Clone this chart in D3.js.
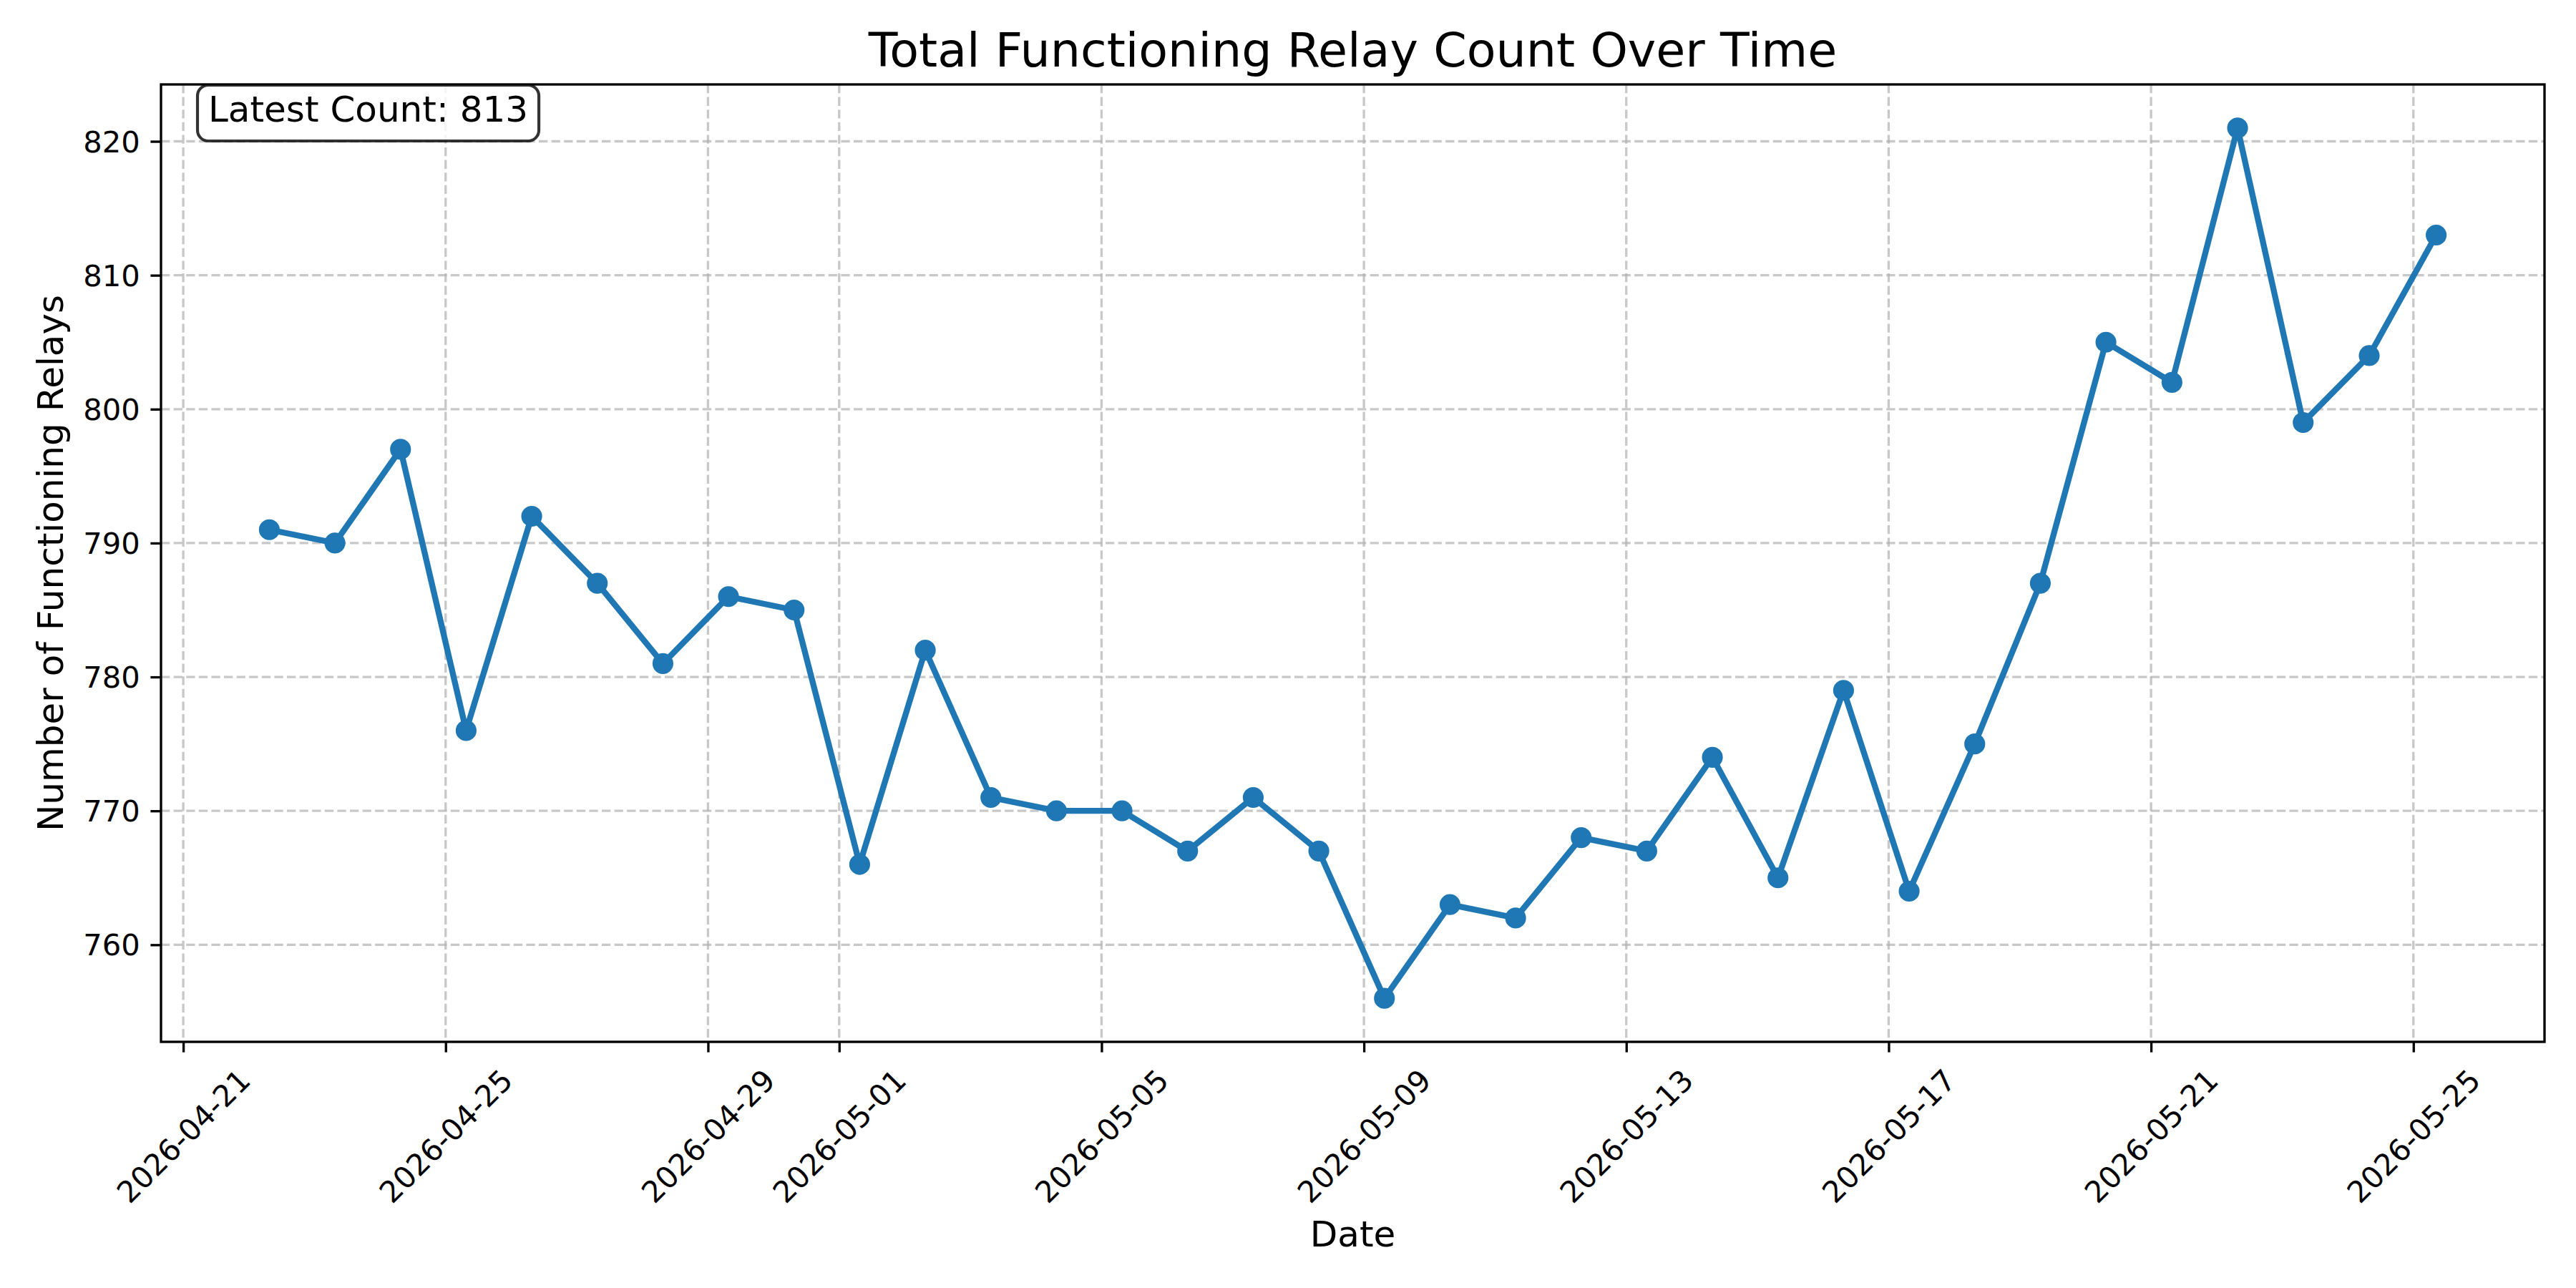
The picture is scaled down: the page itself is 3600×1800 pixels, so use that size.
<!DOCTYPE html>
<html>
<head>
<meta charset="utf-8">
<script src="https://cdn.jsdelivr.net/npm/d3@7"></script>
<style>
  html, body { margin: 0; padding: 0; background: #fff; }
  svg { display: block; font-family: "DejaVu Sans", sans-serif; }
</style>
</head>
<body>
<svg id="chart" width="3600" height="1800"></svg>
<script>
// ---- data ----
const dates = [
  "2026-04-22T07:30", "2026-04-23T07:30", "2026-04-24T07:30", "2026-04-25T07:30",
  "2026-04-26T07:30", "2026-04-27T07:30", "2026-04-28T07:30", "2026-04-29T07:30",
  "2026-04-30T07:30", "2026-05-01T07:30", "2026-05-02T07:30", "2026-05-03T07:30",
  "2026-05-04T07:30", "2026-05-05T07:30", "2026-05-06T07:30", "2026-05-07T07:30",
  "2026-05-08T07:30", "2026-05-09T07:30", "2026-05-10T07:30", "2026-05-11T07:30",
  "2026-05-12T07:30", "2026-05-13T07:30", "2026-05-14T07:30", "2026-05-15T07:30",
  "2026-05-16T07:30", "2026-05-17T07:30", "2026-05-18T07:30", "2026-05-19T07:30",
  "2026-05-20T07:30", "2026-05-21T07:40", "2026-05-22T07:40", "2026-05-23T07:40",
  "2026-05-24T07:50", "2026-05-25T08:20"
];
const relayCounts = [
  791, 790, 797, 776, 792, 787, 781, 786, 785, 766, 782, 771, 770, 770, 767, 771,
  767, 756, 763, 762, 768, 767, 774, 765, 779, 764, 775, 787, 805, 802, 821, 799,
  804, 813
];
const xTickLabels = [
  "2026-04-21", "2026-04-25", "2026-04-29", "2026-05-01", "2026-05-05",
  "2026-05-09", "2026-05-13", "2026-05-17", "2026-05-21", "2026-05-25"
];
const yTickValues = [760, 770, 780, 790, 800, 810, 820];
const titleText = "Total Functioning Relay Count Over Time";
const xLabelText = "Date";
const yLabelText = "Number of Functioning Relays";
const annotationText = "Latest Count: " + relayCounts[relayCounts.length - 1];

// ---- layout ----
const W = 3600, H = 1800;
const margin = { left: 225, right: 44, top: 118, bottom: 344 };
const plotW = W - margin.left - margin.right;
const plotH = H - margin.top - margin.bottom;

const parseT = d3.utcParse("%Y-%m-%dT%H:%M");
const parseD = d3.utcParse("%Y-%m-%d");
const fmtD = d3.utcFormat("%Y-%m-%d");

const data = dates.map((d, i) => ({ t: parseT(d), v: relayCounts[i] }));

// matplotlib-style 5% margins
const tExt = d3.extent(data, d => d.t.getTime());
const tPad = (tExt[1] - tExt[0]) * 0.05;
const vExt = d3.extent(data, d => d.v);
const vPad = (vExt[1] - vExt[0]) * 0.05;

const x = d3.scaleUtc()
  .domain([new Date(tExt[0] - tPad), new Date(tExt[1] + tPad)])
  .range([margin.left, margin.left + plotW]);
const y = d3.scaleLinear()
  .domain([vExt[0] - vPad, vExt[1] + vPad])
  .range([margin.top + plotH, margin.top]);

const svg = d3.select("#chart");
svg.append("rect").attr("width", W).attr("height", H).attr("fill", "#fff");

const lw = 3.33;      // 0.8pt at 300dpi
const tickLen = 14.6; // 3.5pt
const tickPad = 14.6;
const tickFont = 41.67;
const labelFont = 50;
const titleFont = 66.7;

const xTicks = xTickLabels.map(parseD);

// ---- grid ----
const grid = svg.append("g");
grid.selectAll("line.gx").data(xTicks).join("line")
  .attr("x1", d => x(d)).attr("x2", d => x(d))
  .attr("y1", margin.top).attr("y2", margin.top + plotH)
  .attr("stroke", "#b0b0b0").attr("stroke-opacity", 0.7)
  .attr("stroke-width", lw).attr("stroke-dasharray", "12.3,5.3");
grid.selectAll("line.gy").data(yTickValues).join("line")
  .attr("x1", margin.left).attr("x2", margin.left + plotW)
  .attr("y1", d => y(d)).attr("y2", d => y(d))
  .attr("stroke", "#b0b0b0").attr("stroke-opacity", 0.7)
  .attr("stroke-width", lw).attr("stroke-dasharray", "12.3,5.3");

// ---- line + markers ----
const line = d3.line().x(d => x(d.t)).y(d => y(d.v));
svg.append("path").datum(data)
  .attr("d", line)
  .attr("fill", "none")
  .attr("stroke", "#1f77b4")
  .attr("stroke-width", 8.33)
  .attr("stroke-linejoin", "round");
svg.append("g").selectAll("circle").data(data).join("circle")
  .attr("cx", d => x(d.t)).attr("cy", d => y(d.v))
  .attr("r", 12.5)
  .attr("fill", "#1f77b4")
  .attr("stroke", "#1f77b4")
  .attr("stroke-width", 4.17);

// ---- axes via d3 ----
const xAxis = d3.axisBottom(x).tickValues(xTicks).tickFormat(fmtD)
  .tickSize(tickLen).tickPadding(tickPad);
const gx = svg.append("g")
  .attr("transform", `translate(0,${margin.top + plotH})`)
  .call(xAxis);
gx.select(".domain").remove();
gx.selectAll(".tick line").attr("stroke", "#000").attr("stroke-width", lw);
gx.selectAll(".tick text")
  .attr("font-size", tickFont)
  .attr("font-family", "DejaVu Sans")
  .attr("fill", "#000")
  .each(function () {
    const t = d3.select(this);
    const w = this.getComputedTextLength();
    const h = tickFont * 1.16;
    const topY = tickLen + tickPad;
    const cy = topY + (w + h) / (2 * Math.SQRT2);
    t.attr("y", null).attr("dy", null)
      .attr("text-anchor", "middle")
      .attr("dominant-baseline", "central")
      .attr("transform", `translate(0,${cy}) rotate(-45)`);
  });

const yAxis = d3.axisLeft(y).tickValues(yTickValues).tickFormat(d3.format("d"))
  .tickSize(tickLen).tickPadding(tickPad);
const gy = svg.append("g")
  .attr("transform", `translate(${margin.left},0)`)
  .call(yAxis);
gy.select(".domain").remove();
gy.selectAll(".tick line").attr("stroke", "#000").attr("stroke-width", lw);
gy.selectAll(".tick text")
  .attr("font-size", tickFont)
  .attr("font-family", "DejaVu Sans")
  .attr("fill", "#000")
  .attr("dy", "0.35em");

// ---- spines ----
svg.append("rect")
  .attr("x", margin.left).attr("y", margin.top)
  .attr("width", plotW).attr("height", plotH)
  .attr("fill", "none").attr("stroke", "#000").attr("stroke-width", lw);

// ---- annotation box ----
const ann = svg.append("g");
const annX = 291, annBase = 170;
const annText = ann.append("text")
  .attr("x", annX).attr("y", annBase)
  .attr("font-size", labelFont)
  .attr("fill", "#000")
  .text(annotationText);
const annW = annText.node().getComputedTextLength();
ann.insert("rect", "text")
  .attr("x", annX - 15).attr("y", 119)
  .attr("width", annW + 30).attr("height", 78)
  .attr("rx", 15).attr("ry", 15)
  .attr("fill", "#fff").attr("fill-opacity", 0.8)
  .attr("stroke", "#000").attr("stroke-opacity", 0.8)
  .attr("stroke-width", 4.17);

// ---- titles ----
const cx = margin.left + plotW / 2;
svg.append("text")
  .attr("x", cx).attr("y", 93)
  .attr("text-anchor", "middle")
  .attr("font-size", titleFont)
  .attr("fill", "#000")
  .text(titleText);
svg.append("text")
  .attr("x", cx).attr("y", 1742)
  .attr("text-anchor", "middle")
  .attr("font-size", labelFont)
  .attr("fill", "#000")
  .text(xLabelText);
svg.append("text")
  .attr("transform", `translate(88,${margin.top + plotH / 2}) rotate(-90)`)
  .attr("text-anchor", "middle")
  .attr("font-size", labelFont)
  .attr("fill", "#000")
  .text(yLabelText);
</script>
</body>
</html>
